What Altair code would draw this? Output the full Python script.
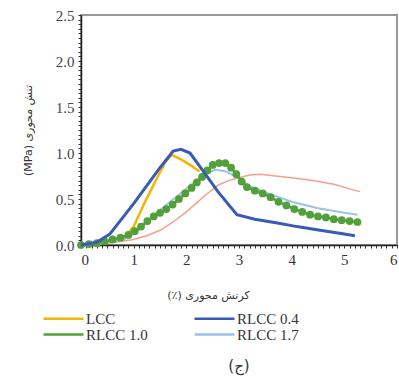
import altair as alt
import pandas as pd

series_names = ["LCC", "RLCC 1.0", "RLCC 0.4", "RLCC 1.7"]
series_colors = ["#f2b705", "#52a03a", "#3a5bb5", "#9cc1ea"]

lcc_x = [0, 0.4, 0.8, 1.0, 1.2, 1.4, 1.6, 1.72, 1.9, 2.1, 2.25]
lcc_y = [0, 0.02, 0.06, 0.2, 0.45, 0.68, 0.9, 0.98, 0.93, 0.86, 0.80]

r04_x = [0, 0.3, 0.55, 1.0, 1.5, 1.75, 1.9, 2.07, 2.3, 2.6, 2.96, 3.3, 3.73, 4.1, 4.54, 5.0, 5.2]
r04_y = [0, 0.03, 0.12, 0.45, 0.84, 1.02, 1.04, 1.0, 0.82, 0.58, 0.33, 0.28, 0.24, 0.2, 0.16, 0.12, 0.10]

r10_x = [0, 0.15, 0.3, 0.45, 0.6, 0.75, 0.9, 1.02, 1.14, 1.26, 1.38, 1.5, 1.62, 1.74, 1.86,
         1.98, 2.1, 2.2, 2.3, 2.4, 2.5, 2.62, 2.74, 2.85, 2.95, 3.05, 3.15, 3.3, 3.45, 3.6,
         3.75, 3.9, 4.05, 4.2, 4.35, 4.5, 4.65, 4.8, 4.95, 5.1, 5.25]
r10_y = [0, 0.01, 0.02, 0.04, 0.06, 0.08, 0.11, 0.15, 0.2, 0.26, 0.31, 0.35, 0.39, 0.44, 0.5,
         0.56, 0.62, 0.68, 0.74, 0.81, 0.87, 0.89, 0.89, 0.84, 0.77, 0.69, 0.63, 0.59, 0.56, 0.52,
         0.47, 0.43, 0.39, 0.36, 0.33, 0.31, 0.3, 0.28, 0.27, 0.26, 0.25]

r17_x = [0, 0.4, 0.8, 1.0, 1.2, 1.5, 1.8, 2.1, 2.35, 2.55, 2.75, 2.95, 3.2, 3.6, 4.0, 4.5, 5.0, 5.25]
r17_y = [0, 0.02, 0.06, 0.12, 0.22, 0.38, 0.52, 0.66, 0.77, 0.82, 0.80, 0.74, 0.64, 0.55, 0.47, 0.40, 0.35, 0.33]

extra_x = [0, 0.5, 1.0, 1.25, 1.5, 1.75, 2.0, 2.2, 2.4, 2.6, 2.8, 3.0, 3.2, 3.4, 3.7, 4.0, 4.4, 4.8, 5.1, 5.3]
extra_y = [0, 0.02, 0.06, 0.1, 0.16, 0.25, 0.36, 0.46, 0.56, 0.65, 0.70, 0.73, 0.76, 0.77, 0.75, 0.73, 0.70, 0.66, 0.61, 0.58]

x_ticks = [round(i * 0.1, 1) for i in range(61)]
y_ticks = [round(i * 0.05, 2) for i in range(51)]

x_title = "(٪) کرنش محوری"
y_title = "(MPa) تنش محوری"
caption = "(ج)"


def frame(xs, ys, name):
    return pd.DataFrame({"x": xs, "y": ys, "series": name, "i": list(range(len(xs)))})


SERIF = "Liberation Serif"
FA = "DejaVu Sans"

xenc = alt.X("x:Q", scale=alt.Scale(domain=[0, 6], nice=False),
             axis=alt.Axis(values=x_ticks,
                           labelExpr="abs(datum.value - round(datum.value)) < 0.001 ? format(datum.value, 'd') : ''",
                           title=x_title, titleFont=FA, titleFontSize=11,
                           titleFontWeight="normal", titlePadding=22, titleColor="#333",
                           titleX=127,
                           labelFont=SERIF, labelFontSize=15, labelColor="#333", labelPadding=4,
                           grid=False, domainColor="#222", domainWidth=1.5,
                           tickColor="#333", tickSize=3, tickWidth=1))
yenc = alt.Y("y:Q", scale=alt.Scale(domain=[0, 2.5], nice=False),
             axis=alt.Axis(values=y_ticks,
                           labelExpr="abs(datum.value * 2 - round(datum.value * 2)) < 0.001 ? format(datum.value, '.1f') : ''",
                           title=y_title, titleFont=FA, titleFontSize=11,
                           titleFontWeight="normal", titlePadding=22, titleColor="#333",
                           labelFont=SERIF, labelFontSize=15, labelColor="#444", labelPadding=4,
                           grid=False, domainColor="#222", domainWidth=1.5,
                           tickColor="#333", tickSize=3, tickWidth=1))

color = alt.Color("series:N",
                  scale=alt.Scale(domain=series_names, range=series_colors),
                  legend=alt.Legend(title=None, orient="none", legendX=-25, legendY=296,
                                    columns=2, columnPadding=41, rowPadding=0,
                                    symbolType="M-4,0L4,0", symbolSize=100,
                                    symbolStrokeWidth=2.5, labelFont=SERIF,
                                    labelFontSize=15, labelColor="#333", labelOffset=15))

extra = alt.Chart(frame(extra_x, extra_y, "extra")).mark_line(
    color="#f4a08c", strokeWidth=1.5).encode(x=xenc, y=yenc, order="i:Q")

def line(xs, ys, name, width=2.5):
    return alt.Chart(frame(xs, ys, name)).mark_line(strokeWidth=width).encode(
        x=xenc, y=yenc, color=color, order="i:Q")

l_lcc = line(lcc_x, lcc_y, "LCC")
l_r17 = line(r17_x, r17_y, "RLCC 1.7", 2)
l_r10 = line(r10_x, r10_y, "RLCC 1.0")
p_r10 = alt.Chart(frame(r10_x, r10_y, "RLCC 1.0")).mark_circle(size=60, opacity=1).encode(
    x=xenc, y=yenc, color=color)
l_r04 = line(r04_x, r04_y, "RLCC 0.4", 3)

chart = alt.layer(extra, l_lcc, l_r17, l_r10, p_r10, l_r04).properties(
    width=316, height=230,
    autosize=alt.AutoSizeParams(type="none"),
    padding={"left": 81, "top": 15, "right": 2, "bottom": 143},
    title=alt.TitleParams(caption, orient="bottom", font=FA, fontSize=15,
                          fontWeight="normal", color="#333", offset=16),
    background="white",
).configure_view(stroke="#999", strokeWidth=2)

chart.save("out.html", embed_options={"renderer": "svg", "actions": False})
